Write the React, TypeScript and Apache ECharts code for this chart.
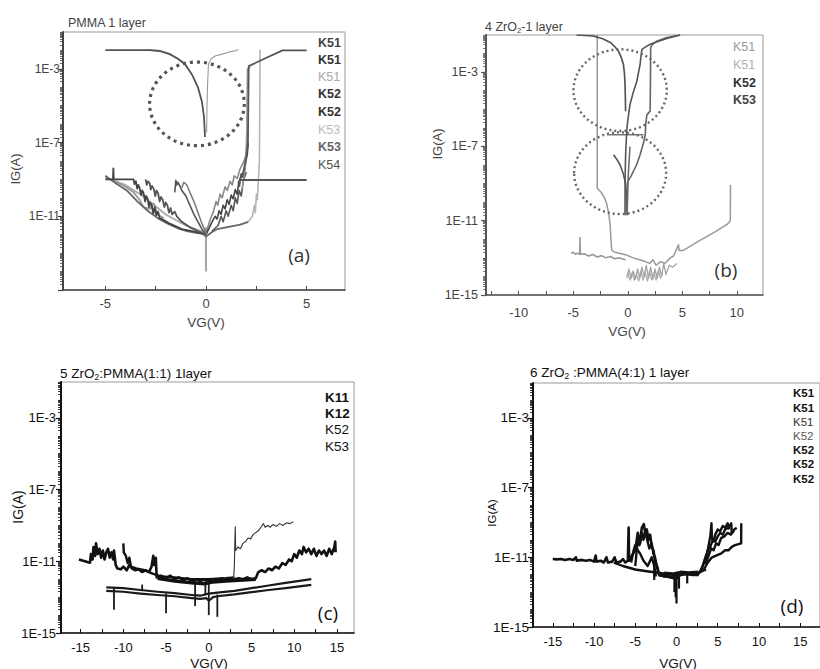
import React, { useEffect, useRef } from "react";
import * as echarts from "echarts";

// Each point: [VG (V), log10 of IG (A)]
type Pt = [number, number];

// ---------- Panel (a) PMMA 1 layer ----------
const A_LEFT_DROP: Pt[] = [[-5, -1.98], [-2.8, -1.98], [-2.3, -2.03], [-1.8, -2.2], [-1.4, -2.45], [-1.04, -2.75], [-0.7, -3.3], [-0.4, -4.0], [-0.2, -4.8], [-0.1, -5.6], [-0.05, -6.7]];
const A_LEFT_DROP2: Pt[] = [[-3.0, -1.97], [-2.4, -2.0], [-1.9, -2.15], [-1.5, -2.38], [-1.15, -2.62], [-0.9, -2.95]];
const A_RISE_THIN: Pt[] = [[0.03, -6.45], [0.05, -5.0], [0.08, -3.8], [0.12, -2.75], [0.25, -2.45], [0.45, -2.3], [0.8, -2.2], [1.1, -2.1], [1.3, -2.05], [1.5, -2.0], [1.6, -1.95]];
const A_JUMP: Pt[] = [[1.6, -9.2], [1.85, -8.6], [2.0, -7.8], [2.08, -7.0], [2.1, -5.0], [2.12, -2.85], [3.0, -2.4], [3.8, -2.0], [5, -2.0]];
const A_JUMP2: Pt[] = [[1.8, -9.5], [1.95, -8.4], [2.02, -6.5], [2.04, -4.5], [2.06, -3.0], [2.2, -2.9]];
const A_STEP_LIGHT: Pt[] = [[2.1, -11.3], [2.3, -11.0], [2.4, -10.4], [2.45, -10.8], [2.5, -9.8], [2.55, -10.1], [2.6, -9.0], [2.65, -8.0], [2.67, -5.0], [2.68, -1.95]];
const A_HOLD_RIGHT: Pt[] = [[1.65, -9.4], [1.7, -9.03], [5, -9.03]];
const A_ENV_LOW: Pt[] = [[-5, -8.8], [-4.5, -9.2], [-3.9, -9.63], [-3.4, -10.2], [-2.9, -10.7], [-2.4, -11.1], [-1.9, -11.4], [-1.4, -11.65], [-0.95, -11.8], [-0.5, -11.9], [-0.15, -11.95], [0, -12.1], [0.3, -11.85], [0.55, -11.7], [1.0, -11.6], [1.7, -11.45], [2.1, -11.3]];
const A_ENV_LIGHT: Pt[] = [[-5, -8.9], [-4, -9.3], [-3, -10.0], [-2, -10.9], [-1, -11.5], [0, -11.9]];
const A_JAG1: Pt[] = [[-5, -9.0], [-4.62, -9.0], [-4.6, -8.4], [-4.58, -9.0], [-3.6, -9.0], [-3.55, -9.25], [-3.48, -9.1], [-3.42, -9.5], [-3.36, -9.3], [-3.3, -9.45], [-3.22, -9.85], [-3.17, -9.6], [-3.1, -9.75], [-3.02, -10.2], [-2.97, -9.9], [-2.9, -10.05], [-2.83, -10.5], [-2.78, -10.25], [-2.7, -10.4], [-2.62, -10.85], [-2.55, -10.5], [-2.47, -10.95], [-2.38, -10.75], [-2.3, -11.1], [-2.1, -11.2], [-1.8, -11.4], [-1.2, -11.7], [-0.5, -11.85], [0, -12.0]];
const A_JAG2: Pt[] = [[-3.0, -9.0], [-2.94, -9.3], [-2.88, -9.1], [-2.8, -9.2], [-2.74, -9.55], [-2.68, -9.35], [-2.6, -9.5], [-2.52, -9.9], [-2.46, -9.6], [-2.38, -9.75], [-2.3, -10.2], [-2.24, -9.95], [-2.15, -10.1], [-2.07, -10.5], [-2.0, -10.25], [-1.92, -10.4], [-1.84, -10.8], [-1.76, -10.55], [-1.68, -10.9], [-1.55, -10.75], [-1.45, -11.0], [-1.2, -11.3], [-0.8, -11.6], [-0.4, -11.8], [0, -12.0]];
const A_JAG3: Pt[] = [[-1.55, -9.7], [-1.5, -9.05], [-1.45, -9.3], [-1.4, -9.15], [-1.3, -9.35], [-1.2, -9.6], [-1.0, -9.9], [-0.8, -10.4], [-0.6, -10.9], [-0.4, -11.3], [-0.2, -11.7], [0, -12.0]];
const A_JAG4: Pt[] = [[-1.2, -9.45], [-1.1, -9.15], [-0.95, -9.3], [-0.8, -9.7], [-0.6, -10.2], [-0.4, -10.8], [-0.2, -11.4], [0, -11.9]];
const A_JAG5: Pt[] = [[-4.5, -9.1], [-4.0, -9.4], [-3.6, -9.7], [-3.3, -10.1], [-3.1, -10.5], [-2.8, -10.6], [-2.6, -10.3], [-2.4, -10.9], [-2.1, -11.1]];
const A_RJAG1: Pt[] = [[0, -12.0], [0.3, -11.3], [0.45, -11.0], [0.55, -11.15], [0.65, -10.7], [0.75, -10.9], [0.85, -10.4], [0.95, -10.6], [1.05, -10.1], [1.15, -10.35], [1.25, -9.85], [1.35, -10.05], [1.45, -9.55], [1.55, -9.8], [1.62, -9.2], [1.7, -9.0], [1.75, -8.7], [1.85, -8.9], [1.95, -8.2], [2.05, -7.6], [2.1, -7.0]];
const A_RJAG2: Pt[] = [[0, -11.9], [0.2, -11.2], [0.35, -10.8], [0.5, -10.2], [0.58, -10.4], [0.7, -9.8], [0.8, -10.0], [0.95, -9.4], [1.05, -9.6], [1.2, -9.1], [1.3, -9.3], [1.4, -8.8], [1.55, -8.95], [1.7, -8.4], [1.85, -8.1], [1.95, -7.8], [2.05, -7.3]];
const A_RJAG3: Pt[] = [[0.3, -11.8], [0.6, -11.5], [0.75, -11.0], [0.85, -11.3], [1.0, -10.7], [1.1, -11.0], [1.25, -10.4], [1.35, -10.7], [1.45, -10.0], [1.55, -10.3], [1.65, -9.6], [1.75, -9.9], [1.85, -9.1], [2.0, -8.6]];
const A_ZERO_TAIL: Pt[] = [[0, -11.6], [0, -14.0]];

// ---------- Panel (b) 4 ZrO2-1 layer ----------
const B_LEFT_DROP: Pt[] = [[-4.7, -1.0], [-3.2, -1.05], [-2.3, -1.2], [-1.6, -1.4], [-1.2, -1.62], [-0.86, -1.86], [-0.6, -2.2], [-0.4, -2.58], [-0.3, -3.1], [-0.25, -3.66], [-0.22, -4.4], [-0.2, -5.1]];
const B_RIGHT_DROP: Pt[] = [[4.8, -1.0], [3.5, -1.2], [2.5, -1.4], [2.05, -1.5], [1.6, -1.65], [1.3, -1.77], [1.2, -2.2], [1.13, -2.58], [0.83, -3.49], [0.5, -4.1], [0.2, -4.75], [0.0, -5.6], [-0.1, -6.2], [-0.2, -7.5], [-0.25, -8.9], [-0.25, -10.7]];
const B_RIGHT_STEP: Pt[] = [[4.8, -1.0], [3.5, -1.15], [2.6, -1.35], [2.2, -1.55], [2.1, -1.7], [2.08, -3.5], [2.05, -5.1], [1.75, -5.3], [1.65, -5.8], [1.6, -6.4], [1.4, -6.9], [1.1, -7.5], [0.8, -8.0], [0.3, -8.6], [0, -8.9], [-0.05, -10.0], [-0.05, -10.7]];
const B_MID_FLAT: Pt[] = [[-1.9, -6.37], [1.45, -6.37]];
const B_FORK_L: Pt[] = [[-1.3, -7.45], [-1.0, -7.7], [-0.7, -8.0], [-0.4, -8.5], [-0.2, -9.0], [-0.1, -9.8], [-0.05, -10.7]];
const B_FORK_R: Pt[] = [[0.2, -7.0], [0.1, -8.0], [0, -9.0], [-0.05, -10.5]];
const B_LONG: Pt[] = [[-2.8, -1.0], [-2.8, -5.0], [-2.8, -9.25], [-2.4, -9.5], [-2.1, -9.8], [-1.93, -10.1], [-1.75, -10.6], [-1.62, -11.2], [-1.55, -11.9], [-1.47, -12.6], [-1.17, -12.7], [-0.6, -12.78], [-0.1, -12.85], [0.5, -13.0], [1.1, -13.1], [1.6, -13.2], [2.0, -13.3], [2.3, -13.1], [2.6, -13.4], [3.0, -13.2], [3.4, -13.3], [3.9, -13.0], [4.2, -12.9], [4.5, -12.5], [4.65, -12.3], [4.7, -12.6], [5.1, -12.6], [6.5, -12.1], [8, -11.6], [9.1, -11.2], [9.4, -11.0], [9.42, -9.07]];
const B_LEFT_FLOOR: Pt[] = [[-5.2, -12.75], [-5.0, -12.7], [-4.8, -12.8], [-4.6, -12.75], [-4.4, -12.8], [-4.38, -11.9], [-4.35, -12.8], [-4.0, -12.78], [-3.6, -12.9], [-3.2, -12.82], [-2.8, -12.95], [-2.4, -12.88], [-2.0, -13.0], [-1.6, -12.93], [-1.2, -13.05], [-0.8, -13.0], [-0.2, -13.12]];
const B_NOISE: Pt[] = [[-0.1, -14.1], [0.1, -13.6], [0.3, -14.1], [0.5, -13.7], [0.7, -14.15], [0.9, -13.6], [1.1, -14.1], [1.3, -13.5], [1.5, -14.0], [1.7, -13.4], [1.9, -14.1], [2.1, -13.5], [2.3, -14.15], [2.5, -13.6], [2.7, -14.1], [2.9, -13.5], [3.1, -14.0], [3.3, -13.3], [3.5, -13.9], [3.8, -13.4], [4.1, -13.5], [4.5, -13.3]];
const B_NOISE2: Pt[] = [[0.0, -13.8], [0.2, -14.2], [0.4, -13.8], [0.6, -14.2], [0.8, -13.9], [1.0, -14.25], [1.2, -13.7], [1.4, -14.2], [1.6, -13.8], [1.8, -14.25], [2.0, -13.7], [2.2, -14.2], [2.4, -13.8], [2.6, -14.2], [2.8, -13.7], [3.0, -14.1], [3.2, -13.8]];

// ---------- Panel (c) 5 ZrO2:PMMA(1:1) ----------
const C_UPPER: Pt[] = [[-15.2, -10.9], [-14.5, -11.0], [-13.9, -11.08], [-13.8, -10.6], [-13.6, -10.9], [-13.5, -10.2], [-13.3, -10.7], [-13.2, -10.0], [-13.0, -10.6], [-12.8, -10.3], [-12.6, -10.8], [-12.4, -10.4], [-12.2, -10.9], [-12.0, -10.5], [-11.8, -10.3], [-11.6, -10.8], [-11.4, -10.5], [-11.2, -10.9], [-11.1, -10.4], [-10.9, -11.2], [-10.7, -11.4], [-10.3, -11.45], [-10.0, -11.3], [-9.6, -11.5], [-9.3, -11.2], [-9.0, -11.4], [-8.6, -11.5], [-8.2, -11.45], [-7.8, -11.6], [-7.4, -11.5], [-7.0, -11.6], [-6.7, -11.3], [-6.5, -10.7], [-6.4, -11.2], [-6.2, -10.8], [-6.1, -11.9], [-5.6, -11.8], [-5.0, -11.95], [-4.5, -11.8], [-4.0, -12.0], [-3.5, -11.9], [-3.0, -12.05], [-2.5, -11.95], [-2.0, -12.1], [-1.5, -12.0], [-1.0, -12.1], [-0.5, -12.0], [0, -12.1], [0.5, -12.0], [1.0, -12.05], [1.5, -11.95], [2.0, -12.05], [2.5, -11.95], [3.0, -12.0], [3.5, -11.95], [4.0, -12.0], [4.5, -11.9], [5.0, -12.0], [5.5, -11.95], [5.8, -11.6], [6.2, -11.5], [6.6, -11.6], [7.0, -11.4], [7.4, -11.5], [7.8, -11.3], [8.2, -11.4], [8.6, -11.1], [9.0, -11.2], [9.4, -10.9], [9.7, -11.0], [10.0, -10.6], [10.3, -10.8], [10.6, -10.4], [10.9, -10.6], [11.1, -10.2], [11.4, -10.5], [11.7, -10.3], [12.0, -10.6], [12.3, -10.3], [12.6, -10.7], [12.9, -10.4], [13.2, -10.6], [13.5, -10.4], [13.8, -10.7], [14.1, -10.3], [14.4, -10.6], [14.7, -10.2], [14.8, -9.9], [14.85, -10.5]];
const C_UPPER2: Pt[] = [[-10.0, -10.0], [-9.95, -10.5], [-9.7, -10.7], [-9.5, -11.1], [-9.3, -10.8], [-9.1, -11.3], [-8.5, -11.4], [-7.5, -11.5], [-6.5, -11.7], [-5.5, -11.85], [-4, -11.9], [-2, -12.0], [0, -12.0], [2, -11.95], [3, -11.9]];
const C_BAND: Pt[] = [[-6, -11.95], [-4, -12.1], [-2, -12.2], [-0.5, -12.25], [0.5, -12.15], [2, -12.1], [4, -12.05], [5.5, -12.0]];
const C_THIN: Pt[] = [[2.9, -12.0], [3.0, -11.2], [3.05, -10.0], [3.1, -9.07], [3.15, -10.4], [3.4, -10.2], [3.7, -10.3], [4.0, -10.0], [4.3, -9.9], [4.6, -9.7], [4.9, -9.75], [5.2, -9.5], [5.5, -9.4], [5.8, -9.3], [6.1, -9.1], [6.4, -8.9], [6.6, -9.1], [6.9, -9.0], [7.2, -9.1], [7.5, -8.95], [7.9, -9.05], [8.3, -8.9], [8.7, -9.0], [9.1, -8.85], [9.5, -8.9], [9.9, -8.8]];
const C_LOW1: Pt[] = [[-12, -12.45], [-10, -12.5], [-8, -12.6], [-6, -12.7], [-4, -12.78], [-2, -12.88], [-1, -12.92], [0, -12.8], [1, -12.75], [3, -12.65], [5, -12.5], [7, -12.35], [9, -12.2], [12, -12.0]];
const C_LOW2: Pt[] = [[-12, -12.65], [-10, -12.7], [-8, -12.8], [-6, -12.88], [-4, -12.95], [-2, -13.05], [-1, -13.1], [-0.3, -13.05], [0, -13.2], [0.5, -13.0], [1, -12.95], [3, -12.85], [5, -12.72], [7, -12.6], [9, -12.5], [12, -12.32]];
// [VG, log10 IG top, log10 IG bottom]
const C_SPIKES: [number, number, number][] = [[-11.1, -12.5, -13.7], [-5, -12.8, -13.9], [-1.6, -12.0, -13.5], [0, -12.1, -14.0], [1, -12.85, -14.1], [-7.8, -12.3, -12.65], [-0.4, -12.05, -12.9]];

// ---------- Panel (d) 6 ZrO2:PMMA(4:1) ----------
const D_FLAT: Pt[] = [[-15, -11.1], [-14.5, -11.12], [-14, -11.1], [-13.5, -11.15], [-13, -11.1], [-12.5, -11.15], [-12.2, -11.0], [-12.1, -11.2], [-11.5, -11.15], [-11, -11.2], [-10.5, -11.15], [-10, -11.25], [-9.8, -10.9], [-9.7, -11.25], [-9.2, -11.2], [-8.8, -11.3], [-8.5, -11.0], [-8.3, -11.3], [-7.8, -11.25], [-7.5, -11.0], [-7.3, -11.3], [-6.8, -11.25], [-6.5, -11.1], [-6.2, -11.3], [-5.9, -11.2], [-5.8, -9.3], [-5.75, -11.2], [-5.4, -10.9], [-5.0, -10.6], [-4.7, -9.6], [-4.5, -10.3], [-4.2, -9.3], [-3.96, -9.1], [-3.8, -9.6], [-3.6, -9.4], [-3.4, -10.0], [-3.2, -9.7], [-3.0, -10.4], [-2.8, -10.6], [-2.6, -11.2], [-2.3, -11.6], [-2.1, -12.0], [-1.5, -12.1], [-0.5, -12.15], [0, -12.2]];
const D_SMOOTH: Pt[] = [[-7.6, -11.3], [-6.5, -11.5], [-5, -11.7], [-3.6, -11.8], [-2, -11.9], [-0.5, -12.0], [1, -11.98], [2.6, -11.9], [3.6, -11.7]];
const D_BUMP1: Pt[] = [[-5.0, -11.5], [-4.8, -10.5], [-4.6, -9.8], [-4.4, -10.2], [-4.2, -9.6], [-4.0, -10.0], [-3.8, -9.5], [-3.5, -10.1], [-3.3, -10.5], [-3.0, -10.2], [-2.8, -10.8], [-2.6, -11.0], [-2.4, -11.5], [-2.2, -11.9], [-2.0, -12.1]];
const D_BUMP2: Pt[] = [[-5.5, -11.3], [-5.2, -10.6], [-5.0, -10.3], [-4.7, -10.6], [-4.4, -10.8], [-4.0, -11.2], [-3.5, -11.5], [-3.0, -11.0], [-2.7, -11.5], [-2.5, -12.1]];
const D_FLOOR: Pt[] = [[-2, -12.0], [-1, -12.1], [-0.2, -12.2], [0, -12.2], [0.5, -12.0], [1, -11.95], [2, -12.0], [2.7, -12.0]];
const D_FLOOR2: Pt[] = [[-1.5, -11.9], [-0.5, -11.95], [0.5, -11.85], [1.5, -11.88], [2.6, -11.85]];
const D_RISE1: Pt[] = [[2.6, -12.0], [3.0, -11.7], [3.4, -11.2], [3.7, -10.8], [3.9, -10.3], [4.1, -9.8], [4.24, -9.05], [4.3, -9.9], [4.5, -10.1], [4.7, -9.7], [5.0, -9.4], [5.3, -9.5], [5.6, -9.2], [5.9, -9.3], [6.2, -9.05], [6.4, -9.4]];
const D_RISE2: Pt[] = [[2.8, -11.9], [3.2, -11.5], [3.5, -11.0], [3.8, -10.6], [4.1, -10.4], [4.4, -10.0], [4.7, -10.1], [5.0, -9.8], [5.3, -9.6], [5.6, -9.7], [5.9, -9.4], [6.3, -9.3], [6.64, -9.05], [6.7, -9.6], [7.0, -9.5]];
const D_RISE3: Pt[] = [[3.2, -11.8], [3.8, -11.3], [4.3, -11.0], [4.8, -10.9], [5.44, -10.77], [5.9, -10.6], [6.3, -10.6], [6.7, -10.4], [7.1, -10.3], [7.5, -10.25], [7.84, -10.2], [7.85, -9.05]];
const D_RISE4: Pt[] = [[3.5, -11.4], [3.9, -10.9], [4.2, -10.5], [4.5, -10.6], [4.8, -10.2], [5.1, -10.3], [5.4, -9.9], [5.8, -9.8], [6.2, -9.6], [6.6, -9.7], [7.0, -9.4], [7.3, -9.3]];
const D_SPIKES: [number, number, number][] = [[0, -12.0, -13.65], [-0.25, -12.0, -13.0], [0.3, -12.0, -12.8], [1.3, -11.95, -12.5], [-2.7, -11.3, -12.3], [-0.1, -12.1, -13.3]];

// ---------- Texts ----------
const LEGEND_A = ["K51", "K51", "K51", "K52", "K52", "K53", "K53", "K54"];
const LEGEND_B = ["K51", "K51", "K52", "K53"];
const LEGEND_C = ["K11", "K12", "K52", "K53"];
const LEGEND_D = ["K51", "K51", "K51", "K52", "K52", "K52", "K52"];
const PANEL_TAGS = ["(a)", "(b)", "(c)", "(d)"];

// y tick labels (exponents of 10)
const Y_LABELS_A = [-11, -7, -3];
const Y_LABELS_BCD = [-15, -11, -7, -3];
const X_LABELS_A = [-5, 0, 5];
const X_LABELS_B = [-10, -5, 0, 5, 10];
const X_LABELS_CD = [-15, -10, -5, 0, 5, 10, 15];

// annotation circles: [centre VG, centre log10 IG, radius in V, radius in decades]
const CIRCLES_A: [number, number, number, number][] = [[-0.45, -4.9, 2.35, 2.27]];
const CIRCLES_B: [number, number, number, number][] = [[-0.7, -3.97, 4.28, 2.2], [-0.7, -8.44, 4.22, 2.2]];

const FONT = '"Liberation Sans", Arial, Helvetica, sans-serif';
const TAG_FONT = '"Open Sans", "DejaVu Sans", sans-serif';

const pow10 = (e: number) => Math.pow(10, e);

export default function App() {
  const ref = useRef<HTMLDivElement>(null);

  useEffect(() => {
    if (!ref.current) return;
    const chart = echarts.init(ref.current, undefined, { renderer: "svg" });

    const grids = [
      { left: 63, top: 32, width: 282, height: 258 },
      { left: 486, top: 35, width: 277, height: 260 },
      { left: 61, top: 382, width: 293, height: 251 },
      { left: 533, top: 383, width: 290, height: 244 },
    ];
    const xRanges = [[-7.1, 6.9], [-13.0, 12.4], [-17.3, 17.0], [-17.4, 17.4]];
    const xLabels = [X_LABELS_A, X_LABELS_B, X_LABELS_CD, X_LABELS_CD];
    const yLabels = [Y_LABELS_A, Y_LABELS_BCD, Y_LABELS_BCD, Y_LABELS_BCD];
    const textCol = ["#444", "#444", "#111", "#111"];
    const axisCol = ["#444", "#555", "#111", "#111"];
    const yLabSize = [12, 12.5, 13, 13.5];
    const yLabMargin = [3, 8, 5, 4];
    const xLabMargin = [7, 11, 8, 8];

    const majorY = [-15, -11, -7, -3].map(pow10);
    const minorY: number[] = [];
    for (let n = -15; n < -1; n++) for (let k = 1; k < 10; k++) minorY.push(k * pow10(n));
    minorY.push(pow10(-1));

    const xTicks = (lo: number, hi: number) => {
      const out: number[] = [];
      for (let v = Math.ceil(lo / 2.5) * 2.5; v <= hi; v += 2.5) out.push(Math.round(v * 10) / 10);
      return out;
    };

    const xAxis = grids.map((_, i) => ({
      type: "value",
      gridIndex: i,
      min: xRanges[i][0],
      max: xRanges[i][1],
      axisLine: { show: true, onZero: false, lineStyle: { color: axisCol[i], width: 1.6 } },
      axisTick: { show: true, inside: true, length: 4, customValues: xTicks(xRanges[i][0], xRanges[i][1]), lineStyle: { color: axisCol[i], width: 1 } },
      axisLabel: { customValues: xLabels[i], color: textCol[i], fontSize: 13, fontFamily: FONT, margin: xLabMargin[i], formatter: (v: number) => String(v) },
      splitLine: { show: false },
    }));

    const yAxis: any[] = [];
    grids.forEach((_, i) => {
      yAxis.push({
        type: "log",
        logBase: 10,
        gridIndex: i,
        position: "left",
        min: 1e-15,
        max: 1e-1,
        axisLine: { show: true, onZero: false, lineStyle: { color: axisCol[i], width: 2 } },
        axisTick: { show: true, length: 5, customValues: majorY, lineStyle: { color: axisCol[i], width: 1.2 } },
        axisLabel: {
          customValues: yLabels[i].map(pow10),
          color: textCol[i],
          fontSize: yLabSize[i],
          fontFamily: FONT,
          margin: yLabMargin[i],
          formatter: (v: number) => "1E" + Math.round(Math.log10(v)),
        },
        splitLine: { show: false },
      });
      yAxis.push({
        type: "log",
        logBase: 10,
        gridIndex: i,
        position: "left",
        min: 1e-15,
        max: 1e-1,
        axisLine: { show: false, onZero: false },
        axisTick: { show: true, length: 3, customValues: minorY, lineStyle: { color: axisCol[i], width: 0.8 } },
        axisLabel: { show: false },
        splitLine: { show: false },
      });
    });

    const series: any[] = [];
    const add = (panel: number, pts: Pt[], color: string, width: number) => {
      series.push({
        type: "line",
        xAxisIndex: panel,
        yAxisIndex: panel * 2,
        data: pts.map(([v, e]) => [v, pow10(e)]),
        symbol: "none",
        showSymbol: false,
        silent: true,
        clip: true,
        lineStyle: { color, width, join: "round" },
        z: 3,
      });
    };
    const addSpikes = (panel: number, sp: [number, number, number][], color: string, width: number) => {
      sp.forEach(([v, t, b]) => add(panel, [[v, t], [v, b]], color, width));
    };

    // panel (a)
    add(0, A_ENV_LIGHT, "#aaa", 1.8);
    add(0, A_JAG5, "#999", 1.8);
    add(0, A_ENV_LOW, "#666", 1.8);
    add(0, A_JAG1, "#444", 1.8);
    add(0, A_JAG2, "#555", 1.8);
    add(0, A_JAG3, "#555", 1.6);
    add(0, A_JAG4, "#777", 1.5);
    add(0, A_RJAG2, "#888", 1.6);
    add(0, A_RJAG1, "#444", 1.6);
    add(0, A_RJAG3, "#555", 1.6);
    add(0, A_STEP_LIGHT, "#b5b5b5", 1.6);
    add(0, A_JUMP2, "#999", 1.5);
    add(0, A_JUMP, "#555", 1.8);
    add(0, A_HOLD_RIGHT, "#555", 1.8);
    add(0, A_LEFT_DROP2, "#aaa", 1.5);
    add(0, A_LEFT_DROP, "#555", 1.8);
    add(0, A_RISE_THIN, "#999", 1.1);
    add(0, A_ZERO_TAIL, "#777", 1.3);

    // panel (b)
    add(1, B_NOISE2, "#b0b0b0", 1.3);
    add(1, B_NOISE, "#a5a5a5", 1.3);
    add(1, B_LEFT_FLOOR, "#999", 1.6);
    add(1, B_LONG, "#999", 1.5);
    add(1, B_MID_FLAT, "#777", 1.5);
    add(1, B_FORK_R, "#666", 1.5);
    add(1, B_FORK_L, "#555", 1.6);
    add(1, B_RIGHT_STEP, "#666", 1.6);
    add(1, B_RIGHT_DROP, "#555", 1.6);
    add(1, B_LEFT_DROP, "#555", 1.7);

    // panel (c)
    add(2, C_LOW1, "#1a1a1a", 2.2);
    add(2, C_LOW2, "#1a1a1a", 2.2);
    addSpikes(2, C_SPIKES, "#1a1a1a", 1.8);
    add(2, C_BAND, "#111", 3.5);
    add(2, C_UPPER2, "#111", 2.4);
    add(2, C_UPPER, "#111", 2.6);
    add(2, C_THIN, "#333", 1.1);

    // panel (d)
    add(3, D_SMOOTH, "#111", 2.4);
    add(3, D_FLOOR2, "#111", 3);
    add(3, D_FLOOR, "#111", 3);
    addSpikes(3, D_SPIKES, "#111", 2.2);
    add(3, D_BUMP2, "#111", 2.4);
    add(3, D_BUMP1, "#111", 2.4);
    add(3, D_FLAT, "#111", 2.6);
    add(3, D_RISE3, "#111", 2.4);
    add(3, D_RISE4, "#111", 2.4);
    add(3, D_RISE2, "#111", 2.4);
    add(3, D_RISE1, "#111", 2.4);

    chart.setOption({
      animation: false,
      backgroundColor: "#ffffff",
      grid: grids.map((g) => ({ ...g, show: true, borderColor: "#999", borderWidth: 1, backgroundColor: "transparent", containLabel: false })),
      xAxis,
      yAxis,
      series,
    });

    // ---------- graphic texts ----------
    const g: any[] = [];
    const text = (x: number, y: number, t: string, o: any = {}) =>
      g.push({
        type: "text",
        x,
        y,
        rotation: o.rotation || 0,
        z: 20,
        silent: true,
        style: {
          text: t,
          fill: o.fill || "#333",
          fontSize: o.size || 13,
          fontFamily: o.family || FONT,
          fontWeight: o.weight || "normal",
          align: o.align || "left",
          verticalAlign: "middle",
          rich: o.rich,
        },
      });

    // titles
    text(68, 23, "PMMA 1 layer", { size: 12.5, fill: "#444" });
    const sub = (size: number, fill: string) => ({
      n: { fontSize: size, fontFamily: FONT, fill, color: fill },
      s: { fontSize: size * 0.62, fontFamily: FONT, fill, color: fill, padding: [Math.round(size * 0.55), 0, 0, 0] },
    });
    text(485, 27, "{n|4 ZrO}{s|2}{n|-1 layer}", { rich: sub(12.5, "#444"), fill: "#444" });
    text(60, 373, "{n|5 ZrO}{s|2}{n|:PMMA(1:1) 1layer}", { rich: sub(13.5, "#111"), fill: "#111" });
    text(530, 372, "{n|6 ZrO}{s|2}{n| :PMMA(4:1) 1 layer}", { rich: sub(13.5, "#111"), fill: "#111" });

    // axis names
    const axName = [
      { x: 15, y: 169, vx: 206, vy: 322, size: 13, fill: "#444" },
      { x: 437, y: 144, vx: 627, vy: 331, size: 13, fill: "#444" },
      { x: 18, y: 507, vx: 209, vy: 663, size: 14, fill: "#111" },
      { x: 492, y: 513, vx: 678, vy: 663, size: 11.5, fill: "#111" },
    ];
    axName.forEach((a) => {
      text(a.x, a.y, "IG(A)", { rotation: Math.PI / 2, align: "center", size: a.size, fill: a.fill });
      text(a.vx, a.vy, "VG(V)", { align: "center", size: 13.5, fill: a.fill });
    });

    // legends
    const legA = { x: 318, ys: [43, 60, 77, 94, 112, 130, 147, 165], cols: ["#444", "#333", "#aaa", "#333", "#333", "#bbb", "#666", "#555"], w: ["bold", "bold", "normal", "bold", "bold", "normal", "bold", "normal"], size: 12.5 };
    LEGEND_A.forEach((t, i) => text(legA.x, legA.ys[i], t, { fill: legA.cols[i], weight: legA.w[i], size: legA.size }));
    const legB = { x: 733, ys: [47, 65, 83, 100], cols: ["#9a9a9a", "#b0b0b0", "#333", "#444"], w: ["normal", "normal", "bold", "bold"], size: 12.5 };
    LEGEND_B.forEach((t, i) => text(legB.x, legB.ys[i], t, { fill: legB.cols[i], weight: legB.w[i], size: legB.size }));
    const legC = { x: 325, ys: [397, 413, 429, 446], w: ["bold", "bold", "normal", "normal"], size: 13.5 };
    LEGEND_C.forEach((t, i) => text(legC.x, legC.ys[i], t, { fill: "#111", weight: legC.w[i], size: legC.size }));
    const legD = { x: 793, ys: [393, 408, 422, 436, 450, 464, 479], cols: ["#111", "#111", "#333", "#555", "#111", "#111", "#111"], w: ["bold", "bold", "normal", "normal", "bold", "bold", "bold"], size: 11.5 };
    LEGEND_D.forEach((t, i) => text(legD.x, legD.ys[i], t, { fill: legD.cols[i], weight: legD.w[i], size: legD.size }));

    // panel tags
    const tagPos = [[299, 255, "#333"], [726, 270, "#333"], [328, 613, "#111"], [792, 606, "#111"]];
    PANEL_TAGS.forEach((t, i) => text(tagPos[i][0] as number, tagPos[i][1] as number, t, { align: "center", size: 19, family: TAG_FONT, fill: tagPos[i][2] }));

    // dotted circles placed through the axes' scales
    const circ = (panel: number, list: [number, number, number, number][], stroke: string, lw: number, dash: number[]) => {
      list.forEach(([cv, ce, rv, re]) => {
        const f = { xAxisIndex: panel, yAxisIndex: panel * 2 };
        const c = chart.convertToPixel(f, [cv, pow10(ce)]) as number[];
        const r = chart.convertToPixel(f, [cv + rv, pow10(ce)]) as number[];
        const t = chart.convertToPixel(f, [cv, pow10(ce + re)]) as number[];
        g.push({
          type: "ellipse",
          z: 15,
          silent: true,
          shape: { cx: c[0], cy: c[1], rx: Math.abs(r[0] - c[0]), ry: Math.abs(c[1] - t[1]) },
          style: { fill: "none", stroke, lineWidth: lw, lineDash: dash },
        });
      });
    };
    circ(0, CIRCLES_A, "#555", 3.2, [3, 4]);
    circ(1, CIRCLES_B, "#666", 2.4, [2, 3]);

    chart.setOption({ graphic: g });

    return () => chart.dispose();
  }, []);

  return <div ref={ref} style={{ position: "fixed", left: 0, top: 0, width: 820, height: 669, background: "#fff" }} />;
}
